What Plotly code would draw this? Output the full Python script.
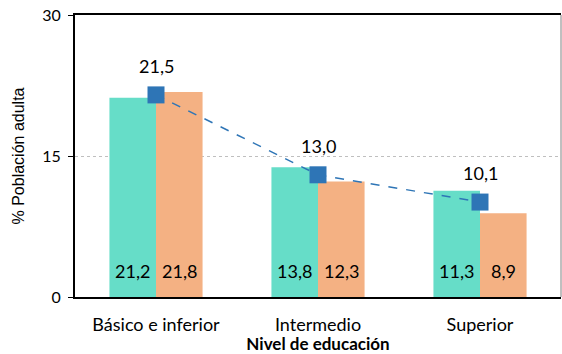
import plotly.graph_objects as go

categories = ["Básico e inferior", "Intermedio", "Superior"]
serie_a = [21.2, 13.8, 11.3]
serie_b = [21.8, 12.3, 8.9]
promedio = [21.5, 13.0, 10.1]

def fmt(v):
    return f"{v:.1f}".replace(".", ",")

FONT = "Lato"
BARGAP = 0.425
half = (1 - BARGAP) / 4  # offset of each bar centre from its category centre

fig = go.Figure()
fig.add_trace(go.Bar(x=categories, y=serie_a, marker_color="#66DDC8",
                     marker_line_width=0))
fig.add_trace(go.Bar(x=categories, y=serie_b, marker_color="#F4B183",
                     marker_line_width=0))
fig.add_trace(go.Scatter(x=categories, y=promedio, mode="lines+markers",
                         line=dict(color="#2E75B6", width=1.5, dash="dash"),
                         marker=dict(symbol="square", size=17, color="#2E75B6",
                                     line=dict(width=0))))
for i, (a, b) in enumerate(zip(serie_a, serie_b)):
    for dx, v in ((-half, a), (half, b)):
        fig.add_annotation(x=i + dx, y=0, text=fmt(v), showarrow=False,
                           yshift=26, font=dict(size=18, color="black", family=FONT))
for c, v in zip(categories, promedio):
    fig.add_annotation(x=c, y=v, text=fmt(v), showarrow=False, yshift=29,
                       font=dict(size=18, color="black", family=FONT))

fig.update_layout(
    width=562, height=354,
    margin=dict(l=75, r=1, t=15, b=57, autoexpand=False),
    plot_bgcolor="white", paper_bgcolor="white",
    barmode="group", bargap=BARGAP, bargroupgap=0,
    showlegend=False,
    font=dict(family=FONT, size=16, color="black"),
)
fig.add_shape(type="line", xref="paper", yref="paper", x0=1, x1=1, y0=0, y1=1,
              line=dict(color="#808080", width=1))
fig.update_xaxes(showline=True, linecolor="black", linewidth=2, ticks="",
                 mirror=True, ticklabelstandoff=10,
                 tickfont=dict(size=18, family=FONT),
                 title=dict(text="<b>Nivel de educación</b>", standoff=1,
                            font=dict(size=17, family=FONT)))
fig.update_yaxes(range=[0, 30], tickvals=[0, 15, 30], showline=True,
                 linecolor="black", linewidth=2, ticks="outside", ticklen=5,
                 tickcolor="black", ticklabelstandoff=4, ticklabeloverflow="allow",
                 showgrid=True, gridcolor="#BFBFBF", griddash="dot", gridwidth=1,
                 zeroline=False, tickfont=dict(size=16, family=FONT),
                 title=dict(text="% Población adulta", standoff=14,
                            font=dict(size=16, family="Liberation Sans")))
fig.write_html("out.html", config=dict(displayModeBar=False),
               post_script="document.body.style.margin='0';")
